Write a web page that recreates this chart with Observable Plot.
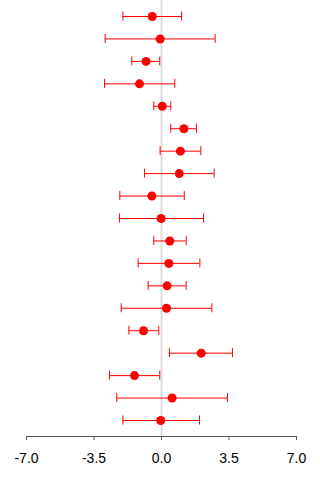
<!DOCTYPE html>
<html>
<head>
<meta charset="utf-8">
<script src="https://cdn.jsdelivr.net/npm/d3@7"></script>
<script src="https://cdn.jsdelivr.net/npm/@observablehq/plot@0.6"></script>
<style>
  html, body { margin: 0; padding: 0; background: #fff; }
  #chart svg { display: block; }
</style>
</head>
<body>
<div id="chart"></div>
<script>
// Point estimates with lower / upper interval bounds, top row first
const estimate = [-0.48, -0.07, -0.80, -1.14, 0.04, 1.16, 0.98, 0.92, -0.50, -0.02,
                  0.43, 0.38, 0.29, 0.26, -0.93, 2.06, -1.40, 0.55, -0.04];
const lower    = [-2.00, -2.92, -1.54, -2.95, -0.40, 0.48, -0.07, -0.88, -2.16, -2.18,
                  -0.40, -1.21, -0.69, -2.09, -1.69, 0.41, -2.70, -2.32, -2.00];
const upper    = [1.04, 2.78, -0.09, 0.69, 0.48, 1.81, 2.04, 2.73, 1.18, 2.18,
                  1.28, 1.99, 1.28, 2.61, -0.14, 3.68, -0.09, 3.42, 1.97];
const xTicks = [-7, -3.5, 0, 3.5, 7];

const rows = estimate.map((est, i) => ({row: i, est, lo: lower[i], hi: upper[i]}));
const red = "#ff0000";

const chart = Plot.plot({
  width: 320,
  height: 480,
  marginLeft: 26,
  marginRight: 24,
  marginTop: 0,
  marginBottom: 44,
  style: {fontFamily: "'Liberation Sans', Arial, sans-serif", fontSize: "14px", background: "#fff"},
  x: {domain: [-7, 7]},
  // narrow bands: the band height sets the height of the whisker caps
  y: {type: "band", domain: rows.map(d => d.row), range: [4.78, 431.22],
      paddingInner: 0.6, paddingOuter: 0.3, round: false, axis: null},
  marks: [
    Plot.ruleX([0], {stroke: "#dddddd", strokeWidth: 2}),
    Plot.frame({anchor: "bottom", stroke: "#555"}),
    Plot.axisX({
      ticks: xTicks,
      tickFormat: d => d.toFixed(1),
      tickSize: 4,
      tickPadding: 12.5,
      stroke: "#555",
      color: "#000",
      fontSize: 14
    }),
    Plot.ruleY(rows, {y: "row", x1: "lo", x2: "hi", stroke: red, strokeWidth: 1}),
    Plot.tickX(rows, {x: "lo", y: "row", stroke: red}),
    Plot.tickX(rows, {x: "hi", y: "row", stroke: red}),
    Plot.dot(rows, {x: "est", y: "row", r: 4.5, fill: red, stroke: "none"})
  ]
});

document.getElementById("chart").append(chart);
</script>
</body>
</html>
